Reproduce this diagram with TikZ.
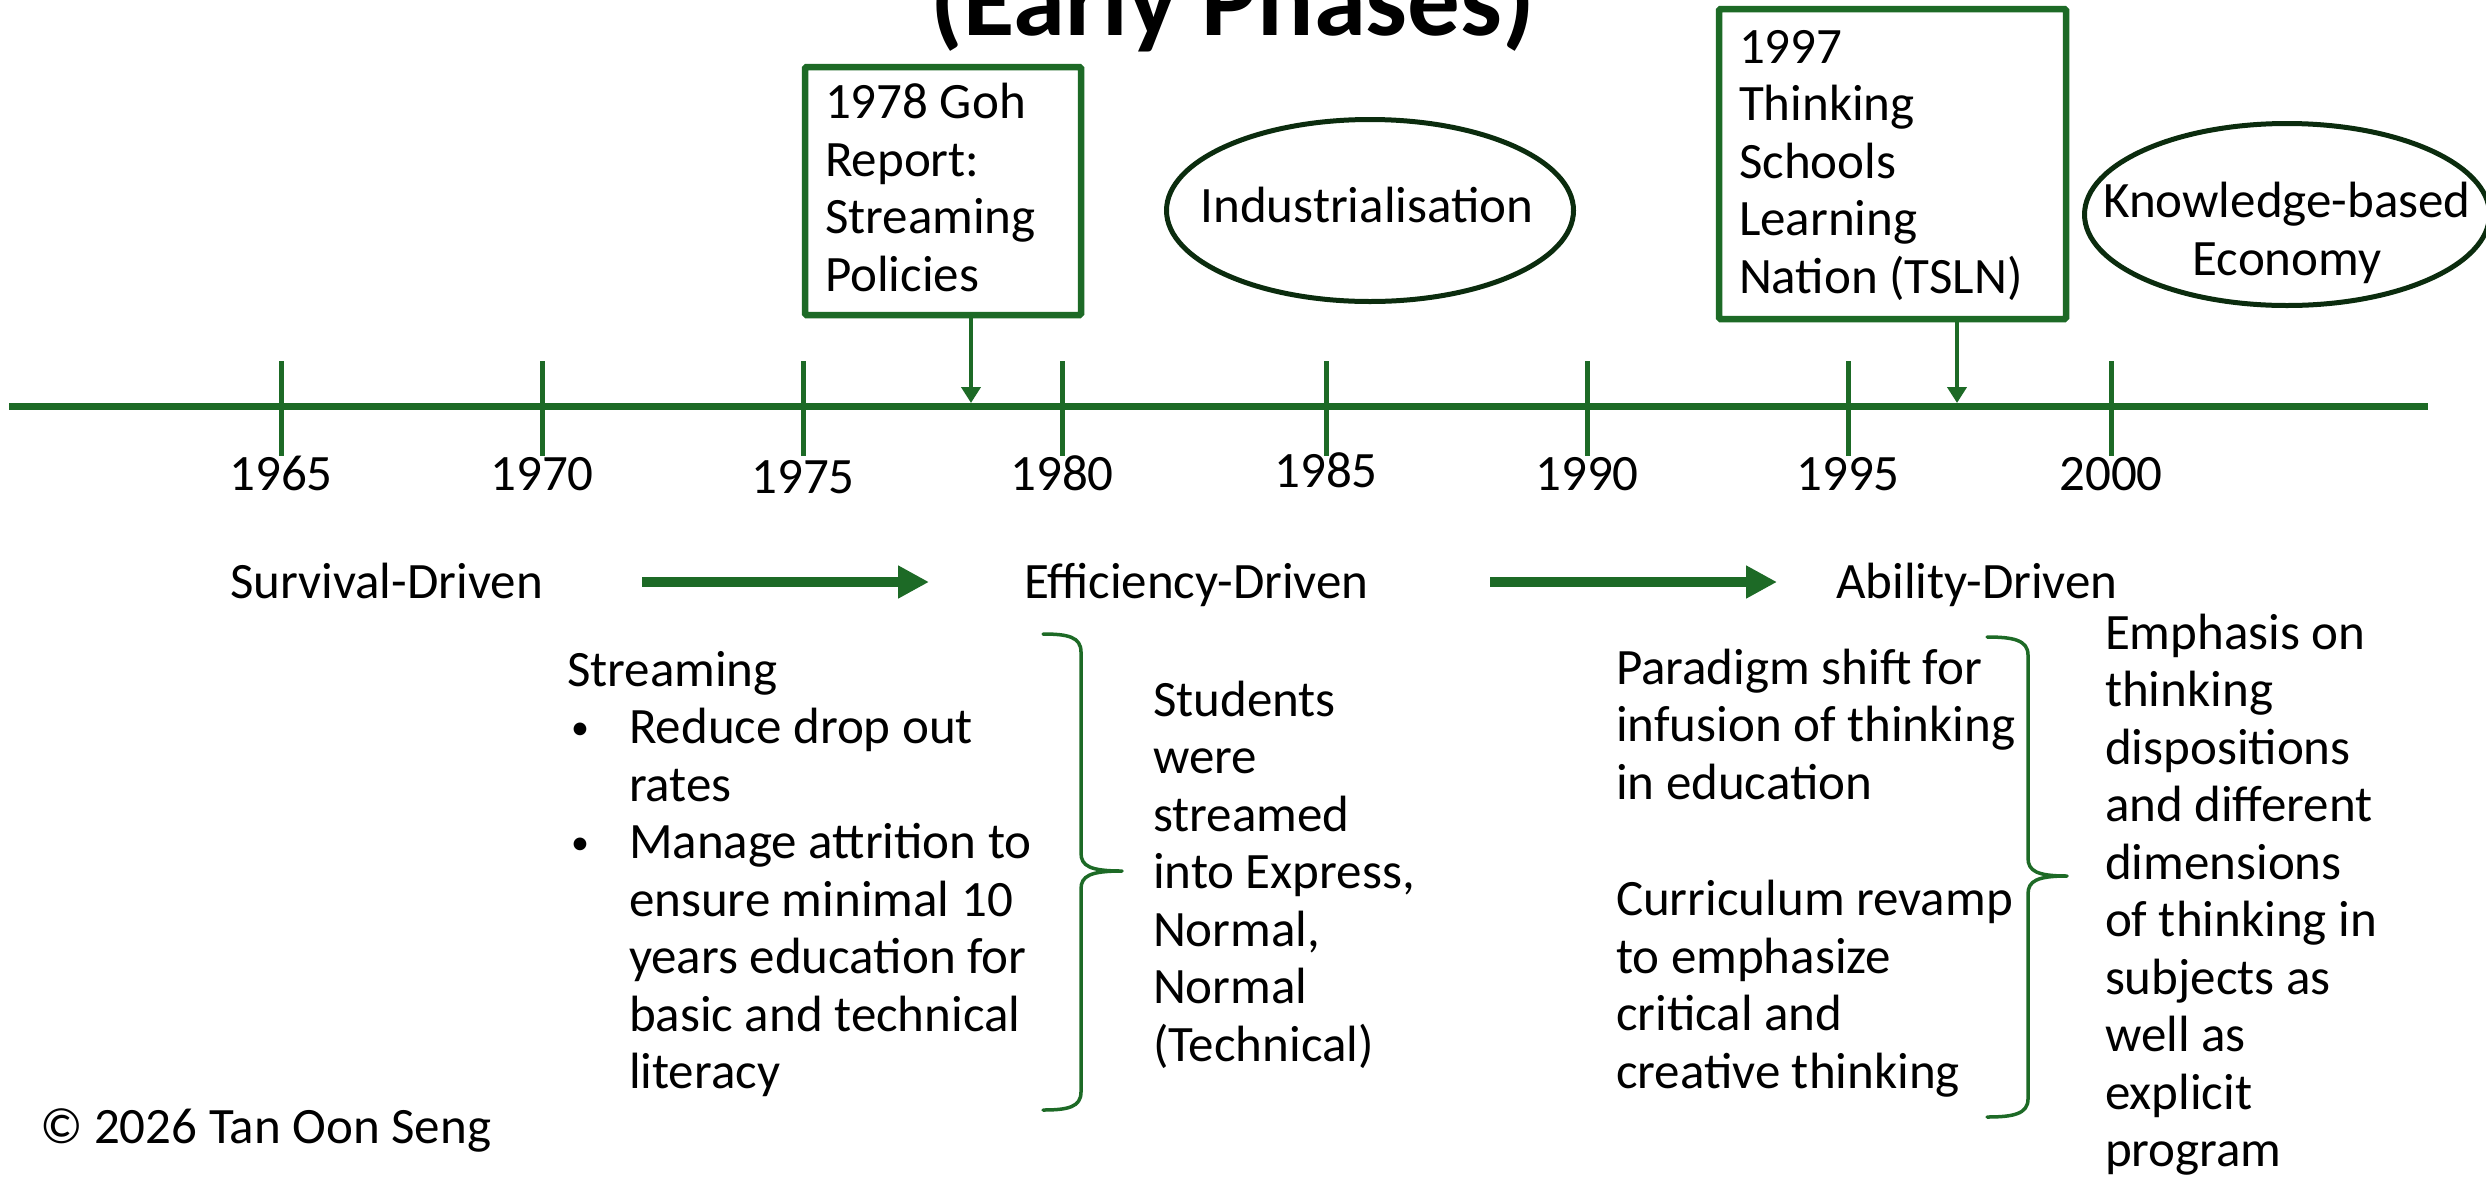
\documentclass[tikz,border=0pt]{standalone}
\usepackage{fontspec}
\setmainfont{Carlito}
\usetikzlibrary{arrows.meta,shapes.geometric}
\definecolor{tgreen}{RGB}{29,106,38}
\definecolor{edark}{RGB}{11,44,14}
\newcommand{\smallbul}{\makebox[62pt][l]{\hspace{4pt}\raisebox{4pt}{\fontsize{36}{40}\selectfont •}}}
\tikzset{
  txt/.style={font=\fontsize{51}{57.5}\selectfont, inner sep=0pt, outer sep=0pt, align=left, anchor=base west, text=black},
  yearlbl/.style={font=\fontsize{51}{57.5}\selectfont, inner sep=0pt, anchor=base, text=black},
  tick/.style={draw=tgreen, line width=5pt},
  evbox/.style={draw=tgreen, line width=6.5pt, rectangle, rounded corners=1.5pt, inner sep=0pt, fill=white},
  evell/.style={draw=edark, line width=5pt, ellipse, inner sep=0pt},
  thinarrow/.style={draw=tgreen, line width=4.5pt, -{Triangle[length=16pt,width=19pt]}},
  phasearrow/.style={draw=tgreen, line width=10pt, -{Triangle[length=31pt,width=31pt]}},
  bracepath/.style={draw=tgreen, line width=3.5pt, line cap=round, line join=round},
}
\begin{document}
\begin{tikzpicture}[x=1pt,y=-1pt]
\useasboundingbox (0,0) rectangle (2486,1176);
\clip (0,0) rectangle (2486,1176);

% title (partly cut off)
\node[font=\fontsize{105}{120}\selectfont\bfseries, inner sep=0pt, anchor=base] (title) at (1233,35) {(Early Phases)};

% timeline
\coordinate (tlstart) at (9,406);
\coordinate (tlend) at (2428,406);
\draw[draw=tgreen, line width=7pt] (tlstart) -- (tlend);

\foreach \x/\yr/\b in {281/1965/490, 542/1970/490, 803/1975/493, 1062/1980/490, 1326/1985/487, 1587/1990/490, 1848/1995/490, 2111/2000/490}{
  \coordinate (t\yr top) at (\x,361);
  \coordinate (t\yr bot) at (\x,456);
  \draw[tick] (t\yr top) -- (t\yr bot);
  \node[yearlbl] (y\yr) at (\x,\b) {\yr};
}

% event boxes (multi-line texts are anchored at the baseline of their last line)
\node[evbox, minimum width=276pt, minimum height=248pt] (goh) at (943,191) {};
\node[txt] (gohtext) at (825,291) {1978 Goh\\Report:\\Streaming\\Policies};
\coordinate (gohhit) at (971,403);
\draw[thinarrow] (goh.south -| gohhit) -- (gohhit);

\node[evbox, minimum width=347pt, minimum height=310pt] (tsln) at (1892.5,164) {};
\node[txt] (tslntext) at (1739,293) {1997\\Thinking\\Schools\\Learning\\Nation (TSLN)};
\coordinate (tslnhit) at (1957,403);
\draw[thinarrow] (tsln.south -| tslnhit) -- (tslnhit);

% ellipses
\node[evell, minimum width=407pt, minimum height=182pt] (indell) at (1370,210.5) {};
\node[yearlbl] (indtext) at (1367,222) {Industrialisation};
\node[evell, minimum width=405pt, minimum height=182pt] (kbeell) at (2287,214.5) {};
\node[font=\fontsize{51}{58}\selectfont, inner sep=0pt, align=center, anchor=base] (kbetext) at (2287,275) {Knowledge-based\\Economy};

% phases
\node[txt] (survival) at (230,598) {Survival-Driven};
\node[txt] (efficiency) at (1024,598) {Efficiency-Driven};
\node[txt] (ability) at (1836,598) {Ability-Driven};
\coordinate (a1s) at (642,582);
\coordinate (a1e) at (929,582);
\draw[phasearrow] (a1s) -- (a1e);
\coordinate (a2s) at (1490,582);
\coordinate (a2e) at (1777,582);
\draw[phasearrow] (a2s) -- (a2e);

% efficiency details
\node[txt] (streaming) at (567,1088.5) {Streaming\\
\smallbul Reduce drop out\\
\hspace*{62pt}rates\\
\smallbul Manage attrition to\\
\hspace*{62pt}ensure minimal 10\\
\hspace*{62pt}years education for\\
\hspace*{62pt}basic and technical\\
\hspace*{62pt}literacy};
\draw[bracepath] (1043,634) .. controls (1068,634) and (1081,637) .. (1081,652)
  -- (1081,853) .. controls (1081,866) and (1090,871) .. (1122,871)
  .. controls (1090,871) and (1081,876) .. (1081,889)
  -- (1081,1092) .. controls (1081,1107) and (1068,1110) .. (1043,1110);
\node[txt] (students) at (1153,1061) {Students\\were\\streamed\\into Express,\\Normal,\\Normal\\(Technical)};

% ability details
\node[txt] (paradigm) at (1616,799) {Paradigm shift for\\infusion of thinking\\in education};
\node[txt] (curriculum) at (1616,1088) {Curriculum revamp\\to emphasize\\critical and\\creative thinking};
\draw[bracepath] (1987,637) .. controls (2013,637) and (2028,640) .. (2028,655)
  -- (2028,858) .. controls (2028,871) and (2037,876) .. (2067,876)
  .. controls (2037,876) and (2028,881) .. (2028,894)
  -- (2028,1099) .. controls (2028,1114) and (2013,1117) .. (1987,1117);
\node[txt] (emphasis) at (2105,1166.5) {Emphasis on\\thinking\\dispositions\\and different\\dimensions\\of thinking in\\subjects as\\well as\\explicit\\program};

% copyright
\node[txt] (copyright) at (40,1143) {© 2026 Tan Oon Seng};
\end{tikzpicture}
\end{document}
